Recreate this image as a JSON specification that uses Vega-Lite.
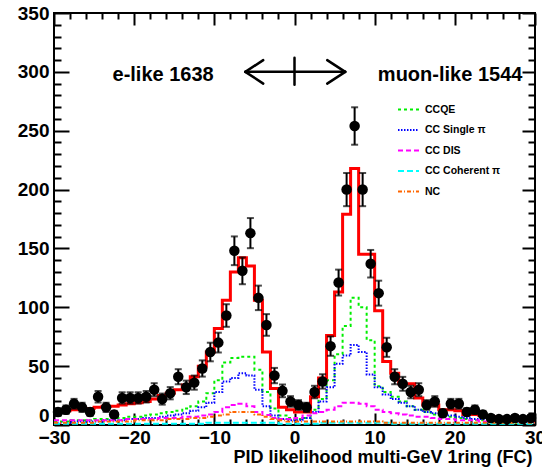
{
  "$schema": "https://vega.github.io/schema/vega-lite/v6.json",
  "width": 481,
  "height": 412,
  "autosize": {"type": "none"},
  "padding": {"left": 54, "top": 13, "right": 7, "bottom": 46},
  "background": "white",
  "config": {
    "view": {"stroke": "black", "strokeWidth": 2},
    "axis": {
      "grid": false, "domain": false, "ticks": true, "tickColor": "black", "tickWidth": 2,
      "labelFont": "Liberation Sans", "labelFontWeight": "bold", "labelColor": "black",
      "labelFlush": false, "labelOverlap": false,
      "titleFont": "Liberation Sans", "titleFontWeight": "bold", "titleColor": "black"
    }
  },
  "datasets": {
    "hist": [
      {"e": -30, "MC": 12, "CCQE": 3, "CC Single π": 2, "CC DIS": 4, "CC Coherent π": 1, "NC": 2},
      {"e": -29, "MC": 12, "CCQE": 3, "CC Single π": 2, "CC DIS": 4, "CC Coherent π": 1, "NC": 2},
      {"e": -28, "MC": 13, "CCQE": 4, "CC Single π": 3, "CC DIS": 4, "CC Coherent π": 1, "NC": 2},
      {"e": -27, "MC": 13, "CCQE": 4, "CC Single π": 3, "CC DIS": 4, "CC Coherent π": 1, "NC": 2},
      {"e": -26, "MC": 14, "CCQE": 4, "CC Single π": 3, "CC DIS": 4, "CC Coherent π": 1, "NC": 2},
      {"e": -25, "MC": 15, "CCQE": 5, "CC Single π": 3, "CC DIS": 4, "CC Coherent π": 1, "NC": 3},
      {"e": -24, "MC": 16, "CCQE": 5, "CC Single π": 4, "CC DIS": 4, "CC Coherent π": 1, "NC": 3},
      {"e": -23, "MC": 16, "CCQE": 6, "CC Single π": 4, "CC DIS": 4, "CC Coherent π": 1, "NC": 3},
      {"e": -22, "MC": 17, "CCQE": 6, "CC Single π": 4, "CC DIS": 4, "CC Coherent π": 1, "NC": 3},
      {"e": -21, "MC": 18, "CCQE": 7, "CC Single π": 5, "CC DIS": 5, "CC Coherent π": 1, "NC": 3},
      {"e": -20, "MC": 19, "CCQE": 7, "CC Single π": 5, "CC DIS": 5, "CC Coherent π": 1, "NC": 4},
      {"e": -19, "MC": 20, "CCQE": 8, "CC Single π": 6, "CC DIS": 5, "CC Coherent π": 1, "NC": 4},
      {"e": -18, "MC": 22, "CCQE": 9, "CC Single π": 6, "CC DIS": 5, "CC Coherent π": 1, "NC": 4},
      {"e": -17, "MC": 25, "CCQE": 10, "CC Single π": 7, "CC DIS": 6, "CC Coherent π": 1, "NC": 4},
      {"e": -16, "MC": 27, "CCQE": 11, "CC Single π": 8, "CC DIS": 6, "CC Coherent π": 1, "NC": 5},
      {"e": -15, "MC": 30, "CCQE": 12, "CC Single π": 9, "CC DIS": 6, "CC Coherent π": 1, "NC": 5},
      {"e": -14, "MC": 34, "CCQE": 14, "CC Single π": 10, "CC DIS": 7, "CC Coherent π": 1, "NC": 5},
      {"e": -13, "MC": 41, "CCQE": 16, "CC Single π": 12, "CC DIS": 7, "CC Coherent π": 1, "NC": 6},
      {"e": -12, "MC": 50, "CCQE": 20, "CC Single π": 15, "CC DIS": 8, "CC Coherent π": 1, "NC": 6},
      {"e": -11, "MC": 62, "CCQE": 27, "CC Single π": 19, "CC DIS": 9, "CC Coherent π": 2, "NC": 7},
      {"e": -10, "MC": 82, "CCQE": 38, "CC Single π": 28, "CC DIS": 11, "CC Coherent π": 2, "NC": 8},
      {"e": -9, "MC": 106, "CCQE": 53, "CC Single π": 37, "CC DIS": 15, "CC Coherent π": 2, "NC": 9},
      {"e": -8, "MC": 130, "CCQE": 57, "CC Single π": 40, "CC DIS": 17, "CC Coherent π": 2, "NC": 11},
      {"e": -7, "MC": 142, "CCQE": 58, "CC Single π": 44, "CC DIS": 18, "CC Coherent π": 2, "NC": 11},
      {"e": -6, "MC": 135, "CCQE": 58, "CC Single π": 42, "CC DIS": 16, "CC Coherent π": 2, "NC": 11},
      {"e": -5, "MC": 106, "CCQE": 47, "CC Single π": 30, "CC DIS": 11, "CC Coherent π": 2, "NC": 9},
      {"e": -4, "MC": 62, "CCQE": 28, "CC Single π": 16, "CC DIS": 8.5, "CC Coherent π": 2, "NC": 7},
      {"e": -3, "MC": 31, "CCQE": 14, "CC Single π": 8, "CC DIS": 6, "CC Coherent π": 2, "NC": 5},
      {"e": -2, "MC": 15, "CCQE": 8, "CC Single π": 5, "CC DIS": 5, "CC Coherent π": 1, "NC": 4},
      {"e": -1, "MC": 13, "CCQE": 6, "CC Single π": 4, "CC DIS": 5, "CC Coherent π": 1, "NC": 3},
      {"e": 0, "MC": 11, "CCQE": 5, "CC Single π": 4, "CC DIS": 6, "CC Coherent π": 1, "NC": 3},
      {"e": 1, "MC": 11, "CCQE": 6, "CC Single π": 6, "CC DIS": 8, "CC Coherent π": 1, "NC": 3},
      {"e": 2, "MC": 24, "CCQE": 13, "CC Single π": 11, "CC DIS": 10, "CC Coherent π": 1, "NC": 3},
      {"e": 3, "MC": 40, "CCQE": 22, "CC Single π": 20, "CC DIS": 11, "CC Coherent π": 2, "NC": 3},
      {"e": 4, "MC": 76, "CCQE": 38, "CC Single π": 32, "CC DIS": 13, "CC Coherent π": 2, "NC": 3},
      {"e": 5, "MC": 113, "CCQE": 60, "CC Single π": 52, "CC DIS": 16, "CC Coherent π": 2, "NC": 3},
      {"e": 6, "MC": 179, "CCQE": 84, "CC Single π": 59, "CC DIS": 19, "CC Coherent π": 2, "NC": 3},
      {"e": 7, "MC": 218, "CCQE": 108, "CC Single π": 68, "CC DIS": 19, "CC Coherent π": 2, "NC": 3},
      {"e": 8, "MC": 145, "CCQE": 100, "CC Single π": 62, "CC DIS": 18, "CC Coherent π": 2, "NC": 3},
      {"e": 9, "MC": 145, "CCQE": 72, "CC Single π": 43, "CC DIS": 16, "CC Coherent π": 2, "NC": 3},
      {"e": 10, "MC": 97, "CCQE": 33, "CC Single π": 32, "CC DIS": 13, "CC Coherent π": 2, "NC": 3},
      {"e": 11, "MC": 54, "CCQE": 28, "CC Single π": 26, "CC DIS": 11, "CC Coherent π": 2, "NC": 2},
      {"e": 12, "MC": 44, "CCQE": 24, "CC Single π": 22, "CC DIS": 10, "CC Coherent π": 1, "NC": 2},
      {"e": 13, "MC": 35, "CCQE": 20, "CC Single π": 19, "CC DIS": 9, "CC Coherent π": 1, "NC": 2},
      {"e": 14, "MC": 35, "CCQE": 16, "CC Single π": 16, "CC DIS": 8, "CC Coherent π": 1, "NC": 2},
      {"e": 15, "MC": 23, "CCQE": 13, "CC Single π": 13, "CC DIS": 7, "CC Coherent π": 1, "NC": 2},
      {"e": 16, "MC": 17, "CCQE": 11, "CC Single π": 11, "CC DIS": 7, "CC Coherent π": 1, "NC": 2},
      {"e": 17, "MC": 17, "CCQE": 9, "CC Single π": 10, "CC DIS": 6, "CC Coherent π": 1, "NC": 2},
      {"e": 18, "MC": 13, "CCQE": 8, "CC Single π": 9, "CC DIS": 5, "CC Coherent π": 1, "NC": 2},
      {"e": 19, "MC": 13, "CCQE": 7, "CC Single π": 8, "CC DIS": 5, "CC Coherent π": 1, "NC": 2},
      {"e": 20, "MC": 12, "CCQE": 6, "CC Single π": 7, "CC DIS": 4, "CC Coherent π": 1, "NC": 2},
      {"e": 21, "MC": 9, "CCQE": 5, "CC Single π": 6, "CC DIS": 4, "CC Coherent π": 1, "NC": 2},
      {"e": 22, "MC": 9, "CCQE": 4, "CC Single π": 5, "CC DIS": 4, "CC Coherent π": 1, "NC": 2},
      {"e": 23, "MC": 8, "CCQE": 4, "CC Single π": 5, "CC DIS": 3, "CC Coherent π": 1, "NC": 2},
      {"e": 24, "MC": 7, "CCQE": 3, "CC Single π": 4, "CC DIS": 3, "CC Coherent π": 1, "NC": 2},
      {"e": 25, "MC": 6, "CCQE": 3, "CC Single π": 4, "CC DIS": 3, "CC Coherent π": 1, "NC": 2},
      {"e": 26, "MC": 5, "CCQE": 3, "CC Single π": 3, "CC DIS": 3, "CC Coherent π": 1, "NC": 2},
      {"e": 27, "MC": 5, "CCQE": 2, "CC Single π": 3, "CC DIS": 3, "CC Coherent π": 1, "NC": 2},
      {"e": 28, "MC": 5, "CCQE": 2, "CC Single π": 3, "CC DIS": 3, "CC Coherent π": 1, "NC": 2},
      {"e": 29, "MC": 5, "CCQE": 2, "CC Single π": 2, "CC DIS": 3, "CC Coherent π": 1, "NC": 2},
      {"e": 30, "MC": 5, "CCQE": 2, "CC Single π": 2, "CC DIS": 3, "CC Coherent π": 1, "NC": 2}
    ],
    "obs": [
      {"c": -29.5, "n": 11, "lo": 7.7, "hi": 14.3},
      {"c": -28.5, "n": 13, "lo": 9.4, "hi": 16.6},
      {"c": -27.5, "n": 18, "lo": 13.8, "hi": 22.2},
      {"c": -26.5, "n": 15, "lo": 11.1, "hi": 18.9},
      {"c": -25.5, "n": 11, "lo": 7.7, "hi": 14.3},
      {"c": -24.5, "n": 24, "lo": 19.1, "hi": 28.9},
      {"c": -23.5, "n": 15, "lo": 11.1, "hi": 18.9},
      {"c": -22.5, "n": 9, "lo": 6, "hi": 12},
      {"c": -21.5, "n": 23, "lo": 18.2, "hi": 27.8},
      {"c": -20.5, "n": 23, "lo": 18.2, "hi": 27.8},
      {"c": -19.5, "n": 23, "lo": 18.2, "hi": 27.8},
      {"c": -18.5, "n": 24, "lo": 19.1, "hi": 28.9},
      {"c": -17.5, "n": 30, "lo": 24.5, "hi": 35.5},
      {"c": -16.5, "n": 22, "lo": 17.3, "hi": 26.7},
      {"c": -15.5, "n": 27, "lo": 21.8, "hi": 32.2},
      {"c": -14.5, "n": 41, "lo": 34.6, "hi": 47.4},
      {"c": -13.5, "n": 32, "lo": 26.3, "hi": 37.7},
      {"c": -12.5, "n": 36, "lo": 30, "hi": 42},
      {"c": -11.5, "n": 48, "lo": 41.1, "hi": 54.9},
      {"c": -10.5, "n": 62, "lo": 54.1, "hi": 69.9},
      {"c": -9.5, "n": 70, "lo": 61.6, "hi": 78.4},
      {"c": -8.5, "n": 93, "lo": 83.4, "hi": 102.6},
      {"c": -7.5, "n": 148, "lo": 135.8, "hi": 160.2},
      {"c": -6.5, "n": 131, "lo": 119.6, "hi": 142.4},
      {"c": -5.5, "n": 163, "lo": 150.2, "hi": 175.8},
      {"c": -4.5, "n": 108, "lo": 97.6, "hi": 118.4},
      {"c": -3.5, "n": 85, "lo": 75.8, "hi": 94.2},
      {"c": -2.5, "n": 42, "lo": 35.5, "hi": 48.5},
      {"c": -1.5, "n": 29, "lo": 23.6, "hi": 34.4},
      {"c": -0.5, "n": 20, "lo": 15.5, "hi": 24.5},
      {"c": 0.5, "n": 17, "lo": 12.9, "hi": 21.1},
      {"c": 1.5, "n": 15, "lo": 11.1, "hi": 18.9},
      {"c": 2.5, "n": 28, "lo": 22.7, "hi": 33.3},
      {"c": 3.5, "n": 37, "lo": 30.9, "hi": 43.1},
      {"c": 4.5, "n": 67, "lo": 58.8, "hi": 75.2},
      {"c": 5.5, "n": 121, "lo": 110, "hi": 132},
      {"c": 6.5, "n": 200, "lo": 185.9, "hi": 214.1},
      {"c": 7.5, "n": 254, "lo": 238.1, "hi": 269.9},
      {"c": 8.5, "n": 200, "lo": 185.9, "hi": 214.1},
      {"c": 9.5, "n": 137, "lo": 125.3, "hi": 148.7},
      {"c": 10.5, "n": 112, "lo": 101.4, "hi": 122.6},
      {"c": 11.5, "n": 66, "lo": 57.9, "hi": 74.1},
      {"c": 12.5, "n": 41, "lo": 34.6, "hi": 47.4},
      {"c": 13.5, "n": 35, "lo": 29.1, "hi": 40.9},
      {"c": 14.5, "n": 28, "lo": 22.7, "hi": 33.3},
      {"c": 15.5, "n": 30, "lo": 24.5, "hi": 35.5},
      {"c": 16.5, "n": 17, "lo": 12.9, "hi": 21.1},
      {"c": 17.5, "n": 20, "lo": 15.5, "hi": 24.5},
      {"c": 18.5, "n": 10, "lo": 6.8, "hi": 13.2},
      {"c": 19.5, "n": 18, "lo": 13.8, "hi": 22.2},
      {"c": 20.5, "n": 18, "lo": 13.8, "hi": 22.2},
      {"c": 21.5, "n": 11, "lo": 7.7, "hi": 14.3},
      {"c": 22.5, "n": 13, "lo": 9.4, "hi": 16.6},
      {"c": 23.5, "n": 9, "lo": 6, "hi": 12},
      {"c": 24.5, "n": 6, "lo": 3.6, "hi": 8.4},
      {"c": 25.5, "n": 5, "lo": 2.8, "hi": 7.2},
      {"c": 26.5, "n": 5, "lo": 2.8, "hi": 7.2},
      {"c": 27.5, "n": 6, "lo": 3.6, "hi": 8.4},
      {"c": 28.5, "n": 5, "lo": 2.8, "hi": 7.2},
      {"c": 29.5, "n": 6, "lo": 3.6, "hi": 8.4}
    ],
    "labels": [
      {"x": -22.7, "y": 297, "t": "e-like 1638"},
      {"x": 10.4, "y": 297, "t": "muon-like 1544"}
    ],
    "arrow": [
      {"x1": -6.13, "y1": 300, "x2": 6.33, "y2": 300},
      {"x1": 0, "y1": 289, "x2": 0, "y2": 312},
      {"x1": -6.13, "y1": 300, "x2": -3.9, "y2": 310},
      {"x1": -6.13, "y1": 300, "x2": -3.9, "y2": 290},
      {"x1": 6.33, "y1": 300, "x2": 4.08, "y2": 310},
      {"x1": 6.33, "y1": 300, "x2": 4.08, "y2": 290}
    ]
  },
  "resolve": {"axis": {"x": "independent", "y": "independent"}},
  "layer": [
    {
      "data": {"name": "hist"},
      "transform": [{"fold": ["CCQE", "CC Single π", "CC DIS", "CC Coherent π", "NC"], "as": ["comp", "val"]}],
      "mark": {"type": "line", "interpolate": "step-after", "strokeWidth": 2},
      "encoding": {
        "x": {"field": "e", "type": "quantitative", "scale": {"domain": [-30, 30], "nice": false, "zero": false},
          "axis": {"orient": "bottom", "values": [-30, -20, -10, 0, 10, 20, 30], "tickSize": -12, "labelPadding": 15, "labelFontSize": 19,
            "title": "PID likelihood multi-GeV 1ring (FC)", "titleFontSize": 18, "titleAlign": "right", "titleBaseline": "middle", "titleX": 478, "titleY": 32}},
        "y": {"field": "val", "type": "quantitative", "scale": {"domain": [0, 350], "nice": false},
          "axis": {"orient": "left", "values": [0, 50, 100, 150, 200, 250, 300, 350], "tickSize": -15, "labelPadding": 20, "labelFontSize": 19, "title": null,
            "labelBaseline": {"condition": {"test": "datum.value === 0", "value": "bottom"}, "value": "middle"}}},
        "color": {"field": "comp", "type": "nominal",
          "scale": {"domain": ["CCQE", "CC Single π", "CC DIS", "CC Coherent π", "NC"], "range": ["#00ee00", "#0000ff", "#ff00ff", "#00ffff", "#ff6600"]},
          "legend": {"title": null, "orient": "none", "legendX": 343, "legendY": 85, "symbolType": "stroke", "symbolSize": 441, "symbolStrokeWidth": 2,
            "labelFont": "Liberation Sans", "labelFontWeight": "bold", "labelFontSize": 10.5, "labelColor": "black", "rowPadding": 3.5, "labelOffset": 5, "padding": 0}},
        "strokeDash": {"field": "comp", "type": "nominal",
          "scale": {"domain": ["CCQE", "CC Single π", "CC DIS", "CC Coherent π", "NC"], "range": [[3, 3], [1.5, 1.5], [5, 3], [6, 3], [4, 2, 1, 2]]},
          "legend": {"title": null, "orient": "none", "legendX": 343, "legendY": 85, "symbolType": "stroke", "symbolSize": 441, "symbolStrokeWidth": 2,
            "labelFont": "Liberation Sans", "labelFontWeight": "bold", "labelFontSize": 10.5, "labelColor": "black", "rowPadding": 3.5, "labelOffset": 5, "padding": 0}}
      }
    },
    {
      "data": {"name": "hist"},
      "mark": {"type": "line", "interpolate": "step-after", "color": "#ff0000", "strokeWidth": 3},
      "encoding": {
        "x": {"field": "e", "type": "quantitative", "scale": {"domain": [-30, 30], "nice": false, "zero": false},
          "axis": {"orient": "bottom", "values": [-28, -26, -24, -22, -18, -16, -14, -12, -8, -6, -4, -2, 2, 4, 6, 8, 12, 14, 16, 18, 22, 24, 26, 28], "tickSize": -6, "labels": false, "title": null}},
        "y": {"field": "MC", "type": "quantitative", "scale": {"domain": [0, 350], "nice": false},
          "axis": {"orient": "left", "values": [10, 20, 30, 40, 60, 70, 80, 90, 110, 120, 130, 140, 160, 170, 180, 190, 210, 220, 230, 240, 260, 270, 280, 290, 310, 320, 330, 340], "tickSize": -7, "labels": false, "title": null}}
      }
    },
    {
      "data": {"name": "obs"},
      "mark": {"type": "rule", "color": "black", "strokeWidth": 2},
      "encoding": {
        "x": {"field": "c", "type": "quantitative", "scale": {"domain": [-30, 30], "nice": false, "zero": false},
          "axis": {"orient": "top", "values": [-30, -20, -10, 0, 10, 20, 30], "tickSize": -12, "labels": false, "title": null}},
        "y": {"field": "lo", "type": "quantitative", "scale": {"domain": [0, 350], "nice": false},
          "axis": {"orient": "right", "values": [0, 50, 100, 150, 200, 250, 300, 350], "tickSize": -13, "labels": false, "title": null}},
        "y2": {"field": "hi"}
      }
    },
    {
      "data": {"name": "obs"},
      "mark": {"type": "tick", "orient": "horizontal", "color": "black", "size": 7, "thickness": 2},
      "encoding": {
        "x": {"field": "c", "type": "quantitative", "scale": {"domain": [-30, 30], "nice": false, "zero": false},
          "axis": {"orient": "top", "values": [-28, -26, -24, -22, -18, -16, -14, -12, -8, -6, -4, -2, 2, 4, 6, 8, 12, 14, 16, 18, 22, 24, 26, 28], "tickSize": -6, "labels": false, "title": null}},
        "y": {"field": "lo", "type": "quantitative", "scale": {"domain": [0, 350], "nice": false},
          "axis": {"orient": "right", "values": [10, 20, 30, 40, 60, 70, 80, 90, 110, 120, 130, 140, 160, 170, 180, 190, 210, 220, 230, 240, 260, 270, 280, 290, 310, 320, 330, 340], "tickSize": -7, "labels": false, "title": null}}
      }
    },
    {
      "data": {"name": "obs"},
      "mark": {"type": "tick", "orient": "horizontal", "color": "black", "size": 7, "thickness": 2},
      "encoding": {
        "x": {"field": "c", "type": "quantitative", "axis": null},
        "y": {"field": "hi", "type": "quantitative", "axis": null}
      }
    },
    {
      "data": {"name": "obs"},
      "mark": {"type": "point", "shape": "circle", "filled": true, "color": "black", "size": 110, "opacity": 1},
      "encoding": {
        "x": {"field": "c", "type": "quantitative", "axis": null},
        "y": {"field": "n", "type": "quantitative", "axis": null}
      }
    },
    {
      "data": {"name": "labels"},
      "mark": {"type": "text", "align": "left", "baseline": "middle", "font": "Liberation Sans", "fontWeight": "bold", "fontSize": 20, "color": "black"},
      "encoding": {
        "x": {"field": "x", "type": "quantitative", "axis": null},
        "y": {"field": "y", "type": "quantitative", "axis": null},
        "text": {"field": "t"}
      }
    },
    {
      "data": {"name": "arrow"},
      "mark": {"type": "rule", "color": "black", "strokeWidth": 2.5, "strokeCap": "round"},
      "encoding": {
        "x": {"field": "x1", "type": "quantitative", "axis": null},
        "y": {"field": "y1", "type": "quantitative", "axis": null},
        "x2": {"field": "x2"},
        "y2": {"field": "y2"}
      }
    }
  ]
}
